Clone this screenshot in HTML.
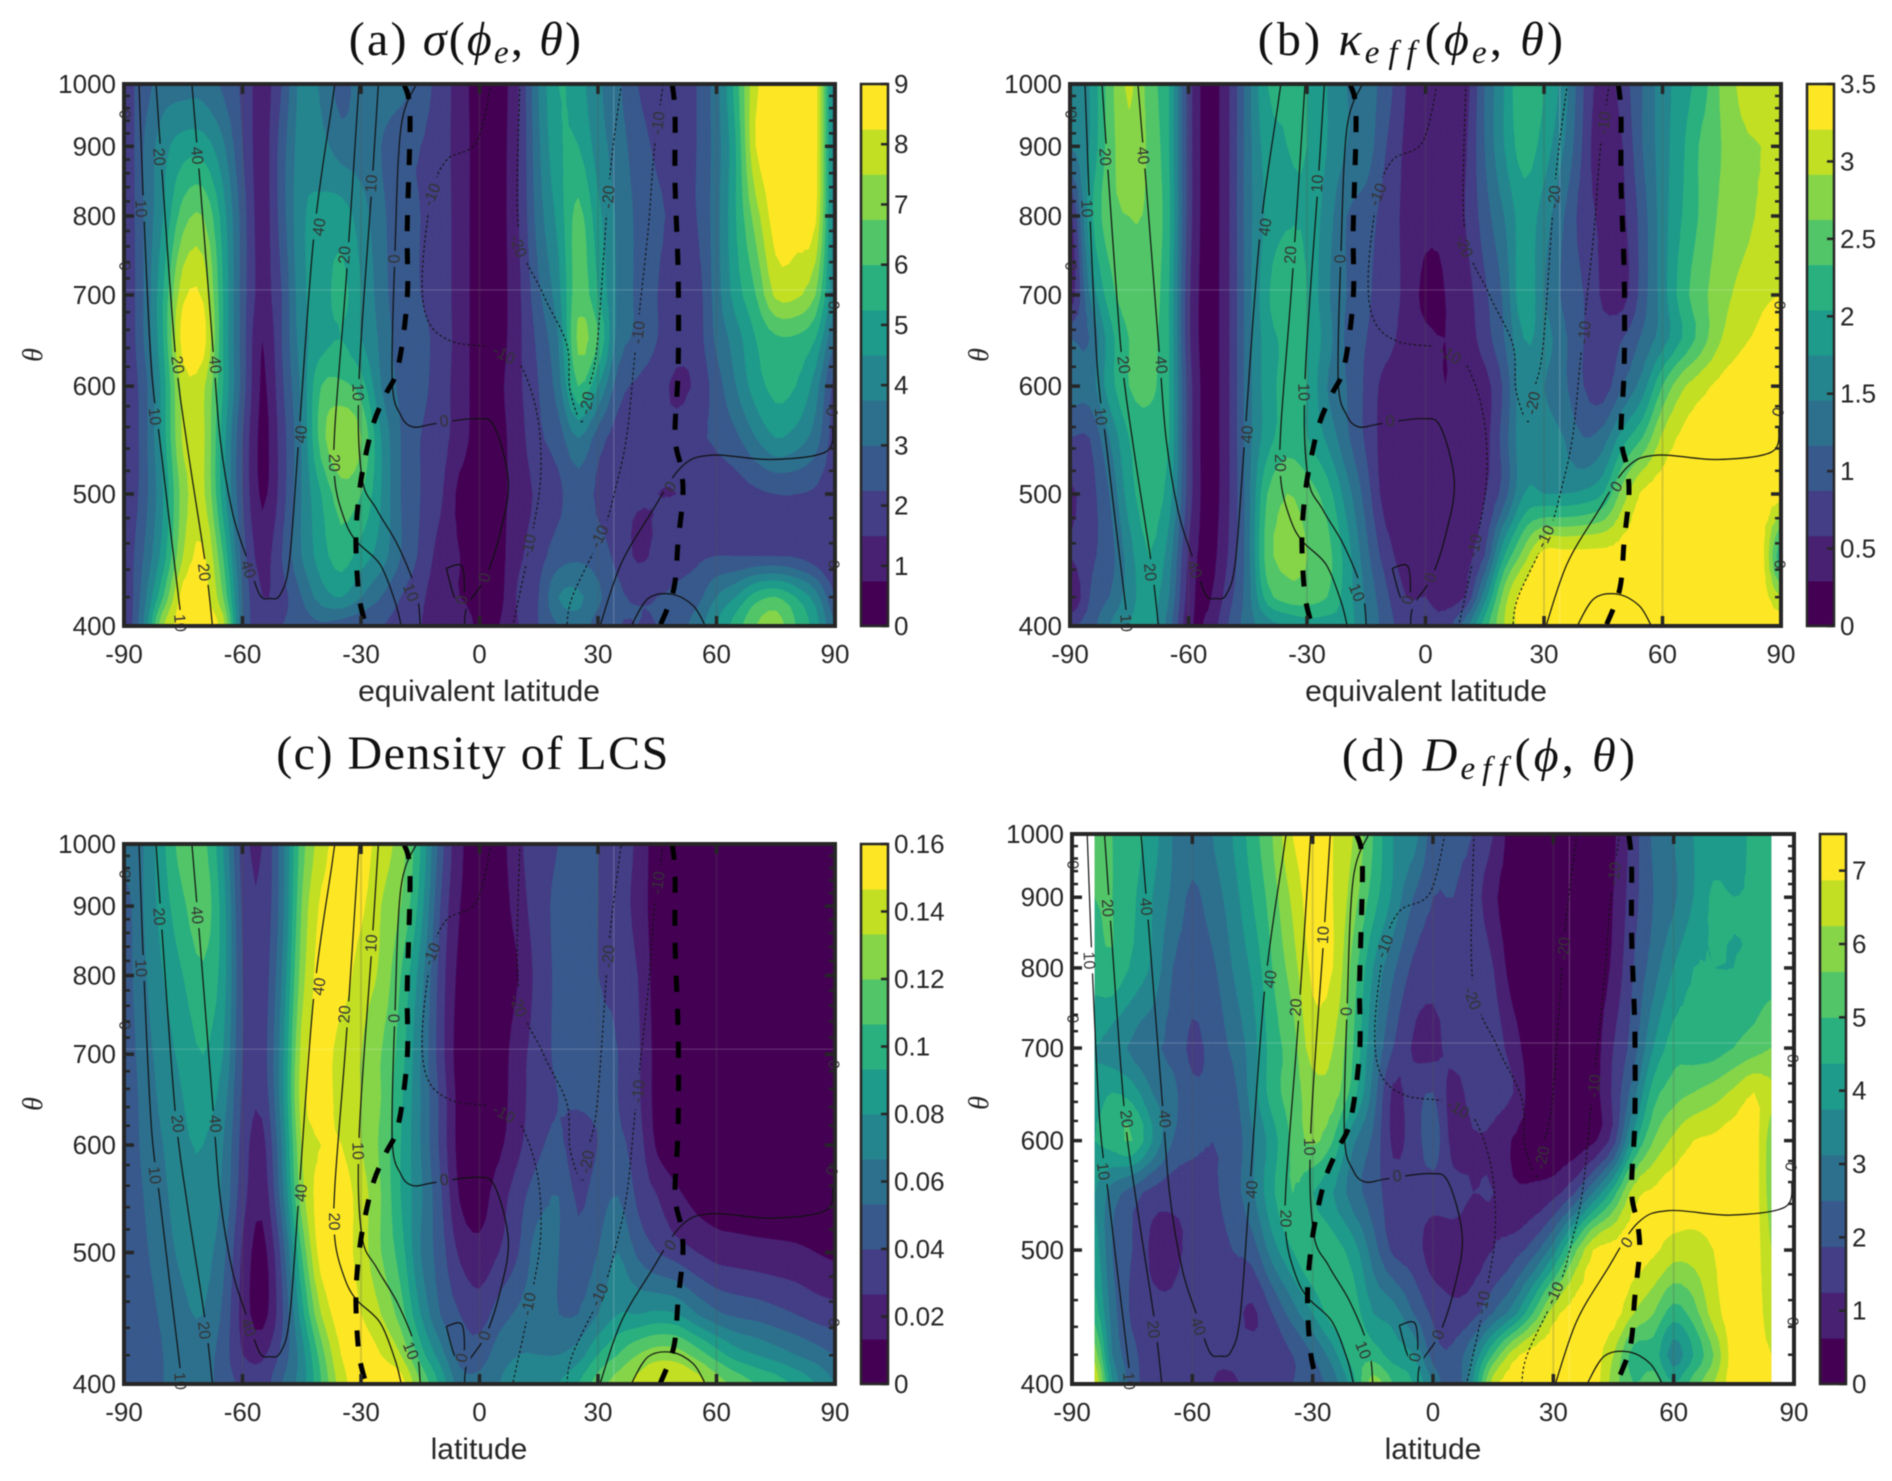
<!DOCTYPE html>
<html lang="en">
<head>
<meta charset="utf-8">
<title>Zonal mean diagnostics panels</title>
<style>
html,body{margin:0;padding:0;background:#fff;}
svg{display:block;filter:blur(0.45px);}
text{font-family:"Liberation Sans",sans-serif;fill:#262626;}
.title{font-family:"Liberation Serif",serif;font-size:48px;fill:#111;}
.math{font-style:italic;}
.sub{font-style:italic;font-size:33px;}
.axlabel{font-size:30px;}
.thlabel{font-family:"Liberation Serif",serif;font-style:italic;font-size:28px;}
.tick{font-size:26px;}
.clabel{font-size:16px;fill:#333;}
</style>
</head>
<body>
<svg id="fig" xmlns="http://www.w3.org/2000/svg" width="1892" height="1481" viewBox="0 0 1892 1481">
  <rect x="0" y="0" width="1892" height="1481" fill="#fff"/>

  <g id="panel-a"></g>
  <g id="panel-b"></g>
  <g id="panel-c"></g>
  <g id="panel-d"></g>

  <text class="title" letter-spacing="2.2" x="466" y="55" text-anchor="middle">(a) <tspan class="math">σ</tspan>(<tspan class="math">ϕ</tspan><tspan class="sub" dy="8">e</tspan><tspan dy="-8">,</tspan> <tspan class="math">θ</tspan>)</text>
  <text class="title" letter-spacing="3.2" x="1412" y="55" text-anchor="middle">(b) <tspan class="math">κ</tspan><tspan class="sub" dy="8" letter-spacing="9">eff</tspan><tspan dy="-8">(</tspan><tspan class="math">ϕ</tspan><tspan class="sub" dy="8">e</tspan><tspan dy="-8">,</tspan> <tspan class="math">θ</tspan>)</text>
  <text class="title" letter-spacing="1.5" x="473" y="769" text-anchor="middle">(c) Density of LCS</text>
  <text class="title" letter-spacing="3.2" x="1490" y="771" text-anchor="middle">(d) <tspan class="math">D</tspan><tspan class="sub" dy="8" letter-spacing="7">eff</tspan><tspan dy="-8">(</tspan><tspan class="math">ϕ</tspan>, <tspan class="math">θ</tspan>)</text>

  <text class="axlabel" x="479" y="701" text-anchor="middle">equivalent latitude</text>
  <text class="axlabel" x="1426" y="701" text-anchor="middle">equivalent latitude</text>
  <text class="axlabel" x="479" y="1459" text-anchor="middle">latitude</text>
  <text class="axlabel" x="1433" y="1459" text-anchor="middle">latitude</text>

  <text class="thlabel" transform="translate(42,355) rotate(-90)" text-anchor="middle">θ</text>
  <text class="thlabel" transform="translate(988,355) rotate(-90)" text-anchor="middle">θ</text>
  <text class="thlabel" transform="translate(42,1104) rotate(-90)" text-anchor="middle">θ</text>
  <text class="thlabel" transform="translate(988,1103) rotate(-90)" text-anchor="middle">θ</text>
</svg>

<script>
// ---------- shared coordinates ----------
const latitudes = [-90,-85,-80,-75,-70,-65,-60,-55,-50,-45,-40,-35,-30,-25,-20,-15,-10,-5,0,5,10,15,20,25,30,35,40,45,50,55,60,65,70,75,80,85,90];
const latitudesD = [-84.3,-80,-75,-70,-65,-60,-55,-50,-45,-40,-35,-30,-25,-20,-15,-10,-5,0,5,10,15,20,25,30,35,40,45,50,55,60,65,70,75,80,84.3];
const thetaLevels = [1000,900,800,700,650,600,550,500,450,420,400];

// ---------- gridded fields, in colour-band units (1 band = colour max / 12) ----------
const sigmaGrid = [
[2.5,3.5,4.5,4.6,4.6,3.8,2.8,1.5,3,5.4, 4.8,3.6,4.5,4.6,4.4,3.5,2.6,1.5,.5,.5, 2,5,7,6.4,5.2,4.2,3,2.5,2.5,3, 4.6,7.5,10.8,11.5,11.5,11.5,5],
[2,4,5.6,6.5,6.5,5.2,3,1.5,3.5,5.5, 5.3,4.5,4.5,4,3.2,3,2.5,1.5,.6,.6, 2,4.8,6.8,7,5.5,4.5,3.5,2.8,2.5,3, 4.5,7,11,11.5,11.5,11.5,5],
[2,4,6,8.5,9,6.5,3.5,1.5,3.5,5.8, 6.3,6.5,5.5,4.3,3.3,3,2.6,1.5,.6,.6, 2,4.5,6.3,8.3,6.3,4.8,3.8,3.2,2.8,3, 4.6,7,9.5,11.5,11.5,11.2,5],
[2,4,7,10.7,10.8,7,3.5,1.6,3,5.7, 6.5,7.3,6,4.5,3.3,3,2.6,1.5,.6,.6, 1.8,3.8,5.6,8.6,7,4.8,3.8,3,2.3,2.5, 4.5,6.5,8,10.2,10.2,9,5],
[2,4,7,11.5,11.5,7,3.5,1,3,5.5, 6.5,7,6,4.8,3.5,3.2,2.7,1.5,.6,.6, 1.8,3.3,5,9.2,8,4.6,3.8,3,2.4,2.5, 4.2,5.5,7,7.8,7.8,7,4],
[2.2,3.5,6.5,10.4,10.2,7,3.5,.8,2.8,5.2, 8,8.2,7.5,5,3.8,3.3,2.5,1.5,.6,.8, 1.8,3,4.5,8,6,3.5,2.8,2.4,1.8,2.2, 3.5,5,6.5,7.3,7,5.5,2.5],
[2,3.5,6.5,10.2,10.2,6.5,3,.7,2.5,5, 8.5,10,9,6,4,3,2.4,1.5,.5,.7, 1.6,2.8,3.5,5,3.5,2.5,2.2,2.2,2.3,2.8, 3.2,3.8,5,6,5.6,4.5,2.5],
[2,3.5,6,9.5,10.2,6.5,3,.8,2.5,5, 7,8.5,8,6,4,3,2.2,.7,.5,.7, 1.5,2.2,2.8,3.5,2.8,2.2,2.1,2,2,2.2, 2.4,2.6,2.8,3,3,2.8,2.2],
[2.2,4,6.5,10,11.2,8,3.5,1.6,3,5, 6.5,7.5,6.5,5.5,4,2.8,1.6,1,.6,.7, 1.8,2.6,3.5,3.8,3.5,2.7,1.85,2.2,2.6,2.8, 3,3,3,3,2.9,2.4,2],
[2,4.5,8,11.5,11.5,9,4,2,2.6,4, 5.5,6,5,4,3,2.2,1.4,1,.7,.7, 2.2,3,5,5.2,4.2,3.2,2.9,3,3.2,3.6, 5,6,7.5,8,7,5.5,3],
[2,5,10,11.5,11.5,10.5,4,2.5,3,3.5, 3.8,3.5,3.2,3,2.6,2,1.8,1.6,.8,1, 2,3,4,4.5,3.5,3,3,3,3.5,4.5, 6,7.5,9,9.5,8,6.5,4]
];
const kappaGrid = [
[5,6,8.5,10.2,8.5,7,2.5,.5,1.8,4.5, 7,7,7,6,5,4.5,3.5,2,1.5,1.2, 1.5,4,6,8,7,5.5,3,1.5,2.5,4, 5.5,6.5,7.5,9.2,10.2,10.4,10.5],
[5,6,8.5,9.6,8.8,7,2.5,.5,1.8,4.5, 6.5,7,7,6,5,4.5,3,1.8,1.3,1.2, 1.8,4,6,7.5,6.5,5,2.8,1,2,4, 5.5,6.8,8.2,9,9.8,10,10.2],
[1.5,6.5,8.6,9,8.8,7.2,2.5,.5,1.8,4.5, 6.2,6.8,6.8,5.5,4,3.5,2.5,1.8,1.3,1.2, 2,3.5,5,6.5,5.5,4,2.5,1.8,1.8,3.5, 5.5,7,8.2,9.2,9.6,10.2,11],
[1.2,5,7.5,8.6,8.6,7,2.2,.5,1.8,4.5, 6.8,8,7,5.2,4,3.2,2.4,1.8,.7,1, 1.5,2.8,4.2,6.8,5,3.8,3,1.8,1.6,3.5, 5.5,7.5,8.7,9.6,10.3,10.8,11],
[4,4,6.5,8,8.3,7,2.2,.5,1.8,4.5, 6.5,7.2,7,5.5,3.8,3,2.4,1.6,1.2,1, 1.4,2.5,4,6,5.5,4.2,3,2.4,3,4.2, 5.5,7,8.5,10,10.8,11.2,11.6],
[4.5,4.5,6.5,8,8.2,7,2.5,.5,1.8,4.5, 6.5,7.3,7,5,4,2.8,1.6,1.4,1.3,1, 1.3,1.6,3.2,5.8,5,4.2,3,2.5,4,5.5, 8,9.8,10.7,11.3,11.6,11.6,11.6],
[3,3,5,7,7.6,7,2.5,.5,1.8,4.5, 6.5,7.5,7,5.8,4.2,2.8,1.5,1.4,1.3,1.3, 1.3,1.6,3.5,5.8,5.5,5,4,4.5,6.5,8, 10.2,11.2,11.6,11.6,11.6,11.6,11.6],
[1.8,2.6,4,6.5,7.5,6.5,2.5,.5,1.8,4.5, 8,9,8.5,7.5,5.5,3.5,1.5,1.4,1.3,1.3, 1.4,1.9,3.5,6,6,6,6.2,7,9.5,11.2, 11.5,11.6,11.6,11.6,11.6,11.6,11.6],
[2,2.8,3.5,5.5,7,5.5,1.8,.6,2,4.5, 8.5,9.2,9,8.4,6.5,4.3,2.5,1.5,1.3,1.2, 1.6,3,7,9.5,11.5,11.5,11.5,11.5,11.5,11.5, 11.5,11.5,11.5,11.5,11.5,11.5,7],
[.8,3,4,5.5,6.5,5,1.5,.8,2.5,4.5, 7.5,8.5,8.5,8,6.5,4.8,3.2,2,2,1.5, 2,5.5,9.5,11.5,11.5,11.5,11.5,11.5,11.5,11.5, 11.5,11.5,11.5,11.5,11.5,11.5,10],
[3,3.5,5,6,6.5,4.5,1.2,1.2,3,4.5, 5.5,6,6.5,6.5,6.5,5,3.5,2.5,2.3,2.5, 4.5,7.5,10,11.5,11.5,11.5,11.5,11.5,11.5,11.5, 11.5,11.5,11.5,11.5,11.5,11.5,11.5]
];
const lcsGrid = [
[4.5,5,6.8,8.5,8.3,6,2.5,2,4.5,8.5, 10.5,11.5,11.5,10.5,9.5,7,3.5,1.2,.5,.6, 1.8,2.6,3,3.3,3,2.6,1.8,.4,.3,.3, .3,.3,.3,.3,.3,.3,.3],
[3.5,5,6.5,7.8,8.6,6.5,2.8,2.2,4.5,9, 11.2,11.5,11.2,10,9,6.5,3,1,.5,.5, 1.5,2.6,3.2,3.5,3,2.6,1.6,.5,.3,.3, .3,.3,.3,.3,.3,.3,.3],
[3.5,4.8,6,7,7.8,6.5,3,2.4,5,9.5, 11.5,11.5,10.5,9.8,8,5.5,2.6,.7,.4,.4, 1,2.4,3.2,3.6,3,2.8,2,.5,.3,.3, .3,.3,.3,.3,.3,.3,.3],
[3.3,4.5,5.5,6.3,7,6,3,2.5,5.5,10.3, 11.5,10.5,10,9,7.5,5,2.5,.5,.4,.5, 1.6,2.5,3.2,3.4,3.2,3,2.2,.6,.3,.3, .3,.3,.3,.3,.3,.3,.3],
[3.3,4.3,5.3,6,6.5,5.5,2.8,2.3,5.5,10.5, 11.5,10.5,10,9,7.2,5,2.8,.6,.4,.6, 1.6,2.6,3,3.2,3.2,3,2.2,.6,.3,.3, .3,.3,.3,.3,.3,.3,.3],
[3.3,4.2,5,5.8,6,5,2.6,1.6,5,10, 11,11,10,8.8,7,5,2.8,.6,.5,.8, 1.8,2.8,3.2,2.4,3,3.2,2.5,.8,.4,.3, .3,.3,.3,.3,.3,.3,.3],
[3.3,4,4.8,5.5,5.8,4.8,2.4,1.3,4.5,9.5, 11.5,11.5,10.5,9,7,5.2,3.2,.9,.6,1.5, 2.6,3.6,4,2.8,3.5,4,2.8,2,1.2,.7, .5,.4,.3,.3,.3,.3,.3],
[3.2,3.8,4.6,5.2,5.4,4.3,1.8,.6,3.3,8, 11.5,11.5,10.5,9,7.5,5,3.5,1.8,1.3,2, 3,4.5,4,3.4,4,5,3.8,3,2.5,2, 1.6,1.5,1.4,1.3,1.2,1,.8],
[3,3.5,4.2,4.8,5,3.8,1.6,.6,2.8,6.5, 10,11.5,11,10,8.5,6,4,3,2.5,3.5, 4.2,4.6,4,4,5,6,6,6.2,6,5, 4.2,3.8,3.6,3.3,3,2.6,2.4],
[3,3.5,4,4.5,4.5,3.5,2,1.8,3.3,5.5, 8.5,11,11.5,11,10,7.5,5.5,3.6,3.5,4.5, 5,5,5,5.5,7,8,9,9.6,9.5,8.6, 7.5,6.5,6,5.5,5,4.5,4],
[3,3.5,4,4.5,4.5,3.5,2.8,2.5,4,5.5, 8,10.5,11.5,11.5,11.5,9,6.8,4.5,4.3,5, 5.5,5.7,6,7,8.5,9.5,10.3,10.8,10.8,10.5, 9.5,8.7,8,7.5,6.8,6,5]
];
const diffusivityGrid = [
[8,8,7.5,6.5,5,4.5,5,6,7.5,9, 11,11.5,11,10,8,6,5.5,3.5,3.2,3, 2,.4,.3,.3,.3,.3,.8,2.5,4.2,5, 6,6.3,6,7.5,8],
[8,8,7.2,6,4.8,3.8,4.5,5.5,7,8.5, 10.2,11.5,11,9.5,7.5,5.8,4,3,3,2.5, 1.2,.4,.3,.3,.3,.3,1,2.6,4,4.8, 6,7.2,7,7.2,7.5],
[7.5,7.8,6.8,5.8,4,3.5,3.8,5,6.2,8, 9.5,11.2,11,8.6,6,4.2,2.8,2.4,2.6,3, 2,.5,.3,.3,.3,.3,1.2,3,4.5,6, 7,7,7,7.2,7.5],
[6,5.5,4.8,4.2,3.7,2.8,3.3,4.2,5.5,7.5, 8.5,10.5,10,8,5.2,3,1.9,1.7,2.4,2.5, 2.5,1.5,.3,.3,.3,.5,2,3.5,6,7.5, 7.5,7.5,8,8.5,9],
[6.5,7,6.5,5,4.3,3.2,3.2,3.6,5.5,7.5, 8.5,9.5,9.5,7.5,4.6,1.8,2.5,3,1.6,2.4, 2.4,2,.4,.3,.3,.6,2.2,4.5,7.5,8.5, 9,9.5,10.2,11,10.2],
[7,7.5,8,6,4,3.3,3,3.3,4.8,6.5, 8.2,9.2,8,5.2,3.8,1.8,2.4,3.5,1.6,1.9, 1.8,.9,.6,.4,.4,.8,2.5,6.5,9,10.2, 11,11.2,11.5,11.5,9.5],
[6,4.5,3.5,2.6,2.3,2.3,2.8,3.5,4.8,6.8, 8,7,6,4.5,3.5,2.5,2.5,2.5,2.3,2, 2,1.2,1.2,1.6,2.8,5,7.5,10.5,11.2,11.5, 11.5,11.5,11.5,11.5,9.5],
[6.5,4,3,1.8,1.8,2.2,2.5,3,3.5,5.5, 7,8,7.5,6.5,4.5,2.8,2.5,1.5,1.6,1.6, 2,2.5,3.5,5.5,8.5,11,11.5,11.5,11.2,10.5, 10.5,11,11.5,11.5,10],
[7.5,4.5,2.8,2.3,2.2,2.6,2.4,2.4,1.8,3, 4.5,6,7.5,7.5,6,5.5,4,2.8,2.2,2.6, 4,5.5,8,10.5,11.5,11.5,11.5,10,9,7.5, 8.5,10.5,11.5,11.5,10.5],
[9.5,5,3.3,2.5,2.5,2.5,2.2,2.3,2.5,2.5, 3,4,5.5,7.5,7.5,6.5,6,3.5,3.2,5, 8,10.5,11.5,11.5,11.5,11.5,10,7.5,7.5,5.5, 7,9,11.5,11.5,11],
[11,6,3.5,2.5,2.3,2.8,2,1.8,2.5,2.8, 3,3.5,4.5,6.5,9.5,8,7,5,3,6, 10.5,11.5,11.5,11.5,11.5,11.5,9.5,8,8.5,7, 8.5,10,11.5,11.5,11.5]
];

// ---------- overlaid wind contours (latitude / theta pairs) ----------
const southOuter10Lat = [-86.2,-85.1,-83.1,-80.9,-78.6,-75.8,-75.5];
const southOuter10Theta = [1000,819,620,547,480,411,400];
const southOuter20Lat = [-81.9,-80.4,-77,-74,-69.4,-67.6];
const southOuter20Theta = [1000,865,634,543,444,400];
const south40Lat = [-72.8,-70.9,-67.4,-65.6,-62.5,-58.7,-55.7,-53.1,-50.4,-48.1,-45.8,-42,-37.4,-36.6];
const south40Theta = [1000,858,634,547,484,447,422,419,422,447,547,770,964,1000];
const southInner20Lat = [-30.5,-33.6,-36.6,-36.6,-34.3,-31.3,-25.2,-21.4,-19.8];
const southInner20Theta = [1000,729,560,511,480,462,444,417,400];
const southInner10Lat = [-25.6,-27.2,-30.5,-29.8,-26,-20.6,-16,-15];
const southInner10Theta = [1000,845,606,515,487,458,424,400];
const zeroMainLat = [-16,-19.9,-21.4,-22.1,-19.9,-16.8,-11.5,-0.8,3.8,7.3,5.3,1.5,-3.1,-3.8];
const zeroMainTheta = [1000,928,752,606,571,560,563,568,560,511,469,434,414,400];
const zeroLoopLat = [-8.4,-4.6,-3.8,-4.6,-6.5,-8.4];
const zeroLoopTheta = [441,443,426,414,421,441];
const zeroNorthLat = [30.5,35.8,43.4,51,58.7,74,87.7,89.5];
const zeroNorthTheta = [400,444,484,523,534,530,537,560];
const zeroArcLat = [38.4,42.7,48.8,54.1,57.2];
const zeroArcTheta = [400,419,422,414,400];
const eastSouth10Lat = [3,-0.8,-8.4,-12.2,-14.5,-13,-6.9,3.8,9.9,14.5,15.5,13,8.4];
const eastSouth10Theta = [1000,906,879,826,724,670,647,640,625,574,515,462,400];
const east20Lat = [10.2,9.9,16,22.1,22.9,25.9,27.5,29.8,32.8,35.9];
const east20Theta = [1000,782,702,644,596,565,596,644,845,1000];
const eastNorth10Lat = [46.5,44.2,42.7,39.6,37.3,34.3,31.2,23.6,22.1];
const eastNorth10Theta = [1000,892,782,644,552,503,469,421,400];
const jetSouthLat = [-19.1,-17.6,-18.3,-18.3,-20.6,-23.7,-26.7,-29,-30.5,-31.3,-30.5,-28.7];
const jetSouthTheta = [1000,950,782,696,620,592,565,531,499,462,421,400];
const jetNorthLat = [48.8,49.5,49.5,50.3,50.3,49.5,51,51.5,50.3,49.2,45.7];
const jetNorthTheta = [1000,950,845,724,620,552,523,499,462,426,400];

const labelText = ["10","20","40","10","20","40","40","20","10","0","10","40","20","0","-10","-10","-20","-20","-20","-10","-10","0","-10","-10","40","20","10","0","0","10","0","0","0","0","0"];
const labelLat = [-85.9,-81.3,-71.7,-82.4,-76.6,-67.1,-40.4,-34,-27.2,-21.4,-31,-45,-36.9,-8.9,-11.9,6.1,9.6,27.4,32.8,45.4,40.4,48.5,12.6,30.5,-58.7,-69.9,-17.6,1.5,-4.3,-76,-90,-90,89.5,89.5,89.5];
const labelTheta = [810,884,886,570,622,622,785,749,845,744,594,553,527,565,829,632,760,583,826,936,657,506,458,465,440,438,423,434,418,402,950,735,688,574,444];

// ---------- axis ticks ----------
const xTicks = [-90,-60,-30,0,30,60,90];
const xTickLabels = ["-90","-60","-30","0","30","60","90"];
const yTicks = [400,500,600,700,800,900,1000];
const yTickLabels = ["400","500","600","700","800","900","1000"];
const cbarTicksA = [0,1,2,3,4,5,6,7,8,9];
const cbarLabelsA = ["0","1","2","3","4","5","6","7","8","9"];
const cbarTicksB = [0,.5,1,1.5,2,2.5,3,3.5];
const cbarLabelsB = ["0","0.5","1","1.5","2","2.5","3","3.5"];
const cbarTicksC = [0,.02,.04,.06,.08,.1,.12,.14,.16];
const cbarLabelsC = ["0","0.02","0.04","0.06","0.08","0.1","0.12","0.14","0.16"];
const cbarTicksD = [0,1,2,3,4,5,6,7];
const cbarLabelsD = ["0","1","2","3","4","5","6","7"];

// ---------- styling and layout ----------
const bandColors = ["#440154","#482173","#433e85","#38598c","#2d708e","#25858e","#1e9b8a","#2ab07f","#52c569","#86d549","#c2df23","#fde725"];
const INK = "#262626";
const SVGNS = "http://www.w3.org/2000/svg";

const panels = [
 {id:"a",x0:124,x1:835,y0:84,y1:626,cb0:861,cb1:888,grid:sigmaGrid,lats:latitudes,cmax:9,cTicks:cbarTicksA,cLabels:cbarLabelsA},
 {id:"b",x0:1070,x1:1781,y0:84,y1:626,cb0:1807,cb1:1834,grid:kappaGrid,lats:latitudes,cmax:3.5,cTicks:cbarTicksB,cLabels:cbarLabelsB},
 {id:"c",x0:124,x1:835,y0:844,y1:1384,cb0:861,cb1:888,grid:lcsGrid,lats:latitudes,cmax:.16,cTicks:cbarTicksC,cLabels:cbarLabelsC},
 {id:"d",x0:1072,x1:1794,y0:834,y1:1384,cb0:1820,cb1:1846,grid:diffusivityGrid,lats:latitudesD,cmax:7.5,cTicks:cbarTicksD,cLabels:cbarLabelsD}
];

const contours = [
 {name:"wind-contour-10-south-outer",lat:southOuter10Lat,theta:southOuter10Theta,kind:"solid"},
 {name:"wind-contour-20-south-outer",lat:southOuter20Lat,theta:southOuter20Theta,kind:"solid"},
 {name:"wind-contour-40-south",lat:south40Lat,theta:south40Theta,kind:"solid"},
 {name:"wind-contour-20-south-inner",lat:southInner20Lat,theta:southInner20Theta,kind:"solid"},
 {name:"wind-contour-10-south-inner",lat:southInner10Lat,theta:southInner10Theta,kind:"solid"},
 {name:"wind-contour-0-main",lat:zeroMainLat,theta:zeroMainTheta,kind:"solid"},
 {name:"wind-contour-0-loop",lat:zeroLoopLat,theta:zeroLoopTheta,kind:"solid"},
 {name:"wind-contour-0-north",lat:zeroNorthLat,theta:zeroNorthTheta,kind:"solid"},
 {name:"wind-contour-0-arc",lat:zeroArcLat,theta:zeroArcTheta,kind:"solid"},
 {name:"wind-contour-minus10-south",lat:eastSouth10Lat,theta:eastSouth10Theta,kind:"dotted"},
 {name:"wind-contour-minus20",lat:east20Lat,theta:east20Theta,kind:"dotted"},
 {name:"wind-contour-minus10-north",lat:eastNorth10Lat,theta:eastNorth10Theta,kind:"dotted"},
 {name:"thick-dashed-line-south",lat:jetSouthLat,theta:jetSouthTheta,kind:"jet"},
 {name:"thick-dashed-line-north",lat:jetNorthLat,theta:jetNorthTheta,kind:"jet"}
];

function make(parent, tag, attrs, txt){
  const el = document.createElementNS(SVGNS, tag);
  for (const k in attrs) el.setAttribute(k, attrs[k]);
  if (txt !== undefined) el.textContent = txt;
  parent.appendChild(el);
  return el;
}

// axis functions
function xScale(p, lat){ return p.x0 + (lat + 90) / 180 * (p.x1 - p.x0); }
function yScale(p, theta){ return p.y1 - Math.log(theta / 400) / Math.log(1000 / 400) * (p.y1 - p.y0); }
function cbarScale(p, v){ return p.y1 - v / p.cmax * (p.y1 - p.y0); }

// Catmull-Rom refinement of a sequence at an integer factor
function crPoint(a, i, t){
  const n = a.length;
  const p0 = a[Math.max(i - 1, 0)], p1 = a[i], p2 = a[Math.min(i + 1, n - 1)], p3 = a[Math.min(i + 2, n - 1)];
  return 0.5 * ((2 * p1) + (p2 - p0) * t + (2 * p0 - 5 * p1 + 4 * p2 - p3) * t * t + (3 * p1 - p0 - 3 * p2 + p3) * t * t * t);
}
function refine(a, f){
  const out = [];
  for (let i = 0; i < a.length - 1; i++) for (let s = 0; s < f; s++) out.push(crPoint(a, i, s / f));
  out.push(a[a.length - 1]);
  return out;
}
function linearRefine(a, f){
  const out = [];
  for (let i = 0; i < a.length - 1; i++) for (let s = 0; s < f; s++) out.push(a[i] + (a[i + 1] - a[i]) * s / f);
  out.push(a[a.length - 1]);
  return out;
}

// clip a triangle to the region value >= level
function clipTriangle(tri, level){
  const out = [];
  for (let i = 0; i < 3; i++){
    const a = tri[i], b = tri[(i + 1) % 3];
    const ain = a[2] >= level, bin = b[2] >= level;
    if (ain) out.push(a);
    if (ain !== bin){
      const t = (level - a[2]) / (b[2] - a[2]);
      out.push([a[0] + (b[0] - a[0]) * t, a[1] + (b[1] - a[1]) * t, level]);
    }
  }
  return out;
}

function drawField(p, parent){
  const F = 3;
  const rows = p.grid.map(function(r){ return refine(r, F); });
  const colCount = rows[0].length;
  const fine = [];
  const fineRowCount = (p.grid.length - 1) * F + 1;
  for (let r = 0; r < fineRowCount; r++) fine.push(new Array(colCount));
  for (let c = 0; c < colCount; c++){
    const col = refine(rows.map(function(r){ return r[c]; }), F);
    for (let r = 0; r < fineRowCount; r++) fine[r][c] = col[r];
  }
  const xs = linearRefine(p.lats, F).map(function(l){ return xScale(p, l); });
  const ys = linearRefine(thetaLevels.map(function(t){ return Math.log(t); }), F).map(function(l){ return yScale(p, Math.exp(l)); });

  const base = make(parent, "rect", {x:xs[0], y:p.y0, width:xs[colCount - 1] - xs[0], height:p.y1 - p.y0, fill:bandColors[0]});
  
  

  for (let level = 1; level < bandColors.length; level++){
    let d = "";
    for (let r = 0; r < fineRowCount - 1; r++){
      for (let c = 0; c < colCount - 1; c++){
        const q = [[xs[c],ys[r],fine[r][c]],[xs[c+1],ys[r],fine[r][c+1]],[xs[c+1],ys[r+1],fine[r+1][c+1]],[xs[c],ys[r+1],fine[r+1][c]]];
        const tris = [[q[0],q[1],q[2]],[q[0],q[2],q[3]]];
        for (const tri of tris){
          const lo = Math.min(tri[0][2], tri[1][2], tri[2][2]);
          const hi = Math.max(tri[0][2], tri[1][2], tri[2][2]);
          if (hi < level) continue;
          if (lo >= level + 1 && level < bandColors.length - 1) continue;
          const poly = clipTriangle(tri, level);
          if (poly.length < 3) continue;
          d += "M" + poly.map(function(v){ return v[0].toFixed(1) + " " + v[1].toFixed(1); }).join("L") + "Z";
        }
      }
    }
    const band = make(parent, "path", {d:d, fill:bandColors[level], stroke:bandColors[level], "stroke-width":0.6, "stroke-linejoin":"round"});
    
    
  }
}

function smoothPath(pts){
  let d = "M" + pts[0][0].toFixed(1) + " " + pts[0][1].toFixed(1);
  for (let i = 0; i < pts.length - 1; i++){
    const p0 = pts[Math.max(i - 1, 0)], p1 = pts[i], p2 = pts[i + 1], p3 = pts[Math.min(i + 2, pts.length - 1)];
    const c1x = p1[0] + (p2[0] - p0[0]) / 6, c1y = p1[1] + (p2[1] - p0[1]) / 6;
    const c2x = p2[0] - (p3[0] - p1[0]) / 6, c2y = p2[1] - (p3[1] - p1[1]) / 6;
    d += "C" + c1x.toFixed(1) + " " + c1y.toFixed(1) + " " + c2x.toFixed(1) + " " + c2y.toFixed(1) + " " + p2[0].toFixed(1) + " " + p2[1].toFixed(1);
  }
  return d;
}

// local contour direction at a label, in screen degrees
function labelAngle(p, lx, ly){
  let best = Infinity, ang = 90;
  for (const c of contours){
    if (c.kind === "jet") continue;
    for (let i = 0; i < c.lat.length - 1; i++){
      const ax = xScale(p, c.lat[i]), ay = yScale(p, c.theta[i]);
      const bx = xScale(p, c.lat[i + 1]), by = yScale(p, c.theta[i + 1]);
      const dx = bx - ax, dy = by - ay, len2 = dx * dx + dy * dy;
      const t = Math.max(0, Math.min(1, ((lx - ax) * dx + (ly - ay) * dy) / len2));
      const px = ax + dx * t, py = ay + dy * t;
      const dist = (px - lx) * (px - lx) + (py - ly) * (py - ly);
      if (dist < best){ best = dist; ang = Math.atan2(dy, dx) * 180 / Math.PI; }
    }
  }
  if (best > 900) return 90;
  if (ang > 90) ang -= 180;
  if (ang < -90) ang += 180;
  return ang;
}

function drawPanel(p){
  const g = document.getElementById("panel-" + p.id);
  const w = p.x1 - p.x0, h = p.y1 - p.y0;
  const defs = make(g, "defs", {});
  const clip = make(defs, "clipPath", {id:"clip-" + p.id});
  make(clip, "rect", {x:p.x0, y:p.y0, width:w, height:h});
  const mask = make(defs, "mask", {id:"gap-" + p.id, maskUnits:"userSpaceOnUse", x:p.x0 - 5, y:p.y0 - 5, width:w + 10, height:h + 10});
  make(mask, "rect", {x:p.x0 - 5, y:p.y0 - 5, width:w + 10, height:h + 10, fill:"#fff"});

  const field = make(g, "g", {"clip-path":"url(#clip-" + p.id + ")"});
  
  
  drawField(p, field);

  // faint stitching artefact lines
  const hl = make(field, "line", {x1:p.x0, x2:p.x1, y1:yScale(p, 706), y2:yScale(p, 706), stroke:"#fff", "stroke-opacity":0.18, "stroke-width":1.2});
  
  
  const vl = make(field, "line", {x1:xScale(p, 34), x2:xScale(p, 34), y1:p.y0, y2:p.y1, stroke:"#fff", "stroke-opacity":0.2, "stroke-width":1.2});
  
  
  for (const lat of xTicks){
    if (lat === -90 || lat === 90) continue;
    const gl = make(field, "line", {x1:xScale(p, lat), x2:xScale(p, lat), y1:p.y0, y2:p.y1, stroke:"#555", "stroke-opacity":0.22, "stroke-width":2});
    
    
  }

  // label gaps in the contour mask
  const labelAngles = [];
  for (let i = 0; i < labelText.length; i++){
    const lx = xScale(p, labelLat[i]), ly = yScale(p, labelTheta[i]);
    const a = labelAngle(p, lx, ly);
    labelAngles.push(a);
    const halfW = labelText[i].length * 5 + 3;
    make(mask, "rect", {x:-halfW, y:-8, width:halfW * 2, height:16, fill:"#000", transform:"translate(" + lx.toFixed(1) + "," + ly.toFixed(1) + ") rotate(" + a.toFixed(1) + ")"});
  }

  const lines = make(g, "g", {"clip-path":"url(#clip-" + p.id + ")"});
  
  
  const thin = make(lines, "g", {mask:"url(#gap-" + p.id + ")"});
  
  
  for (const c of contours){
    const pts = c.lat.map(function(l, i){ return [xScale(p, l), yScale(p, c.theta[i])]; });
    let attrs;
    if (c.kind === "solid") attrs = {stroke:"#111", "stroke-width":1.2, fill:"none"};
    else if (c.kind === "dotted") attrs = {stroke:"#111", "stroke-width":1.1, fill:"none", "stroke-dasharray":"2.5 2.5"};
    else attrs = {stroke:"#000", "stroke-width":5, fill:"none", "stroke-dasharray":"16 17"};
    attrs.d = smoothPath(pts);
    const line = make(c.kind === "jet" ? lines : thin, "path", attrs);
    
    
  }

  for (let i = 0; i < labelText.length; i++){
    const lx = xScale(p, labelLat[i]), ly = yScale(p, labelTheta[i]);
    const t = make(g, "text", {class:"clabel", "text-anchor":"middle", "dominant-baseline":"central", transform:"translate(" + lx.toFixed(1) + "," + ly.toFixed(1) + ") rotate(" + labelAngles[i].toFixed(1) + ")"}, labelText[i]);
    
    
  }

  // minor ticks on the log theta axis
  for (let th = 420; th < 1000; th += 20){
    const yy = yScale(p, th);
    const m1 = make(g, "line", {x1:p.x0, x2:p.x0 + 6, y1:yy, y2:yy, stroke:INK, "stroke-width":2.5});
    
    
    const m2 = make(g, "line", {x1:p.x1, x2:p.x1 - 6, y1:yy, y2:yy, stroke:INK, "stroke-width":2.5});
    
    
  }

  // major ticks and labels
  for (let i = 0; i < yTicks.length; i++){
    const yy = yScale(p, yTicks[i]);
    const t1 = make(g, "line", {x1:p.x0, x2:p.x0 + 10, y1:yy, y2:yy, stroke:INK, "stroke-width":3.5});
    
    
    const t2 = make(g, "line", {x1:p.x1, x2:p.x1 - 10, y1:yy, y2:yy, stroke:INK, "stroke-width":3.5});
    
    
    const lb = make(g, "text", {class:"tick", x:p.x0 - 8, y:yy + 9, "text-anchor":"end"}, yTickLabels[i]);
    
    
  }
  for (let i = 0; i < xTicks.length; i++){
    const xx = xScale(p, xTicks[i]);
    const t1 = make(g, "line", {x1:xx, x2:xx, y1:p.y1, y2:p.y1 - 10, stroke:INK, "stroke-width":3.5});
    
    
    const t2 = make(g, "line", {x1:xx, x2:xx, y1:p.y0, y2:p.y0 + 10, stroke:INK, "stroke-width":3.5});
    
    
    const lb = make(g, "text", {class:"tick", x:xx, y:p.y1 + 37, "text-anchor":"middle"}, xTickLabels[i]);
    
    
  }

  const box = make(g, "rect", {x:p.x0, y:p.y0, width:w, height:h, fill:"none", stroke:INK, "stroke-width":4});
  
  

  // colour bar
  const cb = make(g, "g", {});
  
  
  for (let i = 0; i < bandColors.length; i++){
    const top = cbarScale(p, (i + 1) * p.cmax / bandColors.length);
    const bot = cbarScale(p, i * p.cmax / bandColors.length);
    const r = make(cb, "rect", {x:p.cb0, y:top, width:p.cb1 - p.cb0, height:bot - top + 0.5, fill:bandColors[i]});
    
    
  }
  const cbox = make(cb, "rect", {x:p.cb0, y:p.y0, width:p.cb1 - p.cb0, height:h, fill:"none", stroke:INK, "stroke-width":2.5});
  
  
  for (let i = 0; i < p.cTicks.length; i++){
    const yy = cbarScale(p, p.cTicks[i]);
    const tk = make(cb, "line", {x1:p.cb1, x2:p.cb1 - 7, y1:yy, y2:yy, stroke:INK, "stroke-width":2.5});
    
    
    const lb = make(cb, "text", {class:"tick", x:p.cb1 + 6, y:yy + 9}, p.cLabels[i]);
    
    
  }
}

panels.forEach(drawPanel);
</script>
</body>
</html>
